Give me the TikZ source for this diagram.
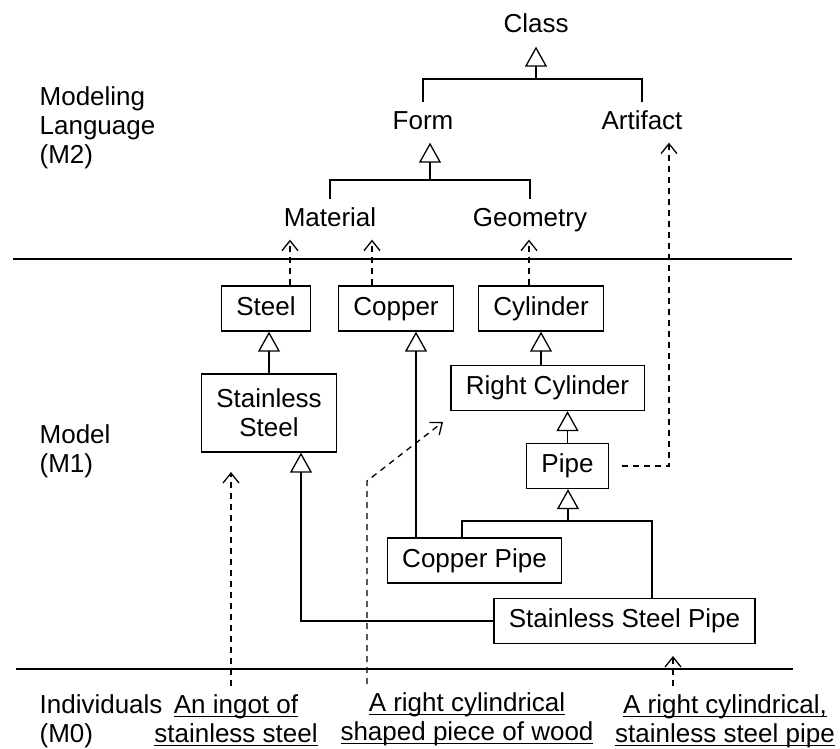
\documentclass[tikz,border=0pt]{standalone}
\usepackage{amsmath}
\usepackage{fontspec}
\setmainfont{Liberation Sans}
\usetikzlibrary{arrows.meta}

\newcommand{\undl}[1]{\underline{\smash[b]{#1}}}

\tikzset{
    lbl/.style={text height=18pt, text depth=5pt, inner xsep=0pt, inner ysep=8pt},
    box/.style={draw, inner xsep=15pt},
    cls/.style={box, text height=18pt, text depth=5pt, inner ysep=11pt},
    gen/.style={-{Triangle[open,length=20pt,width=22pt]}},
    dep/.style={-{Straight Barb[length=10pt,width=16pt]}, dash pattern=on 6pt off 5pt},
    inst/.style={align=center, inner xsep=0pt, inner ysep=8pt},
    sep/.style={line width=1.8pt}
}

\begin{document}
\begin{tikzpicture}[x=1pt, y=-1pt, line width=1.3pt, font=\fontsize{26}{29}\selectfont]
    \useasboundingbox (0,0) rectangle (840,749);

    % Draw level separators
    \draw[sep] (13,259) -- (792,259);
    \draw[sep] (16,669) -- (793,669);

    % Level names
    \node[anchor=north west, align=left, inner sep=0pt] (m2) at (39,86.5) {Modeling\\Language\\(M2)};
    \node[anchor=north west, align=left, inner sep=0pt] (m1) at (39,424.5) {Model\\(M1)};
    \node[anchor=north west, align=left, inner sep=0pt] (m0) at (39,694.5) {Individuals\\(M0)};

    % Modeling language (M2)
    \node[lbl, anchor=base] (class) at (536,33) {Class};
    \node[lbl, anchor=base] (form) at (423,129) {Form};
    \node[lbl, anchor=base] (artifact) at (642,129) {Artifact};
    \node[lbl, anchor=base] (material) at (330,226) {Material};
    \node[lbl, anchor=base] (geometry) at (530,226) {Geometry};

    \coordinate (topbar) at (536,79);
    \draw (form.north) |- (topbar) -| (artifact.north);
    \draw[gen] (topbar) -- (class.south);

    \coordinate (formbar) at (430,180);
    \draw (material.north) |- (formbar) -| (geometry.north);
    \draw[gen] (formbar) -- (formbar |- form.south);

    % Model (M1)
    \node[cls] (steel) at (266,308.5) {Steel};
    \node[cls] (copper) at (396,308.5) {Copper};
    \node[cls] (cylinder) at (541,308.5) {Cylinder};
    \node[box, align=center, inner ysep=0pt, minimum height=78pt] (sst) at (269,413) {Stainless\\Steel};
    \node[cls] (rcyl) at (547.5,388) {Right Cylinder};
    \node[cls] (pipe) at (567.5,466) {Pipe};
    \node[cls] (cpipe) at (474.5,560.5) {Copper Pipe};
    \node[cls] (sspipe) at (624.5,621) {Stainless Steel Pipe};

    \draw[gen] (sst.north) -- (sst.north |- steel.south);
    \draw[gen] (rcyl.north -| cylinder.south) -- (cylinder.south);
    \draw[gen] (pipe.north) -- (pipe.north |- rcyl.south);

    \coordinate (pipebar) at (568,521);
    \draw ([xshift=-12.5pt]cpipe.north) |- (pipebar) -| ([xshift=27.5pt]sspipe.north);
    \draw[gen] (pipebar) -- (pipebar |- pipe.south);

    \coordinate (cpup) at ([xshift=-58.5pt]cpipe.north);
    \draw[gen] (cpup) -- (cpup |- copper.south);
    \coordinate (sstin) at ([xshift=32pt]sst.south);
    \draw[gen] (sspipe.west) -| (sstin);

    % Instance-of links to M2
    \coordinate (stlup) at ([xshift=24pt]steel.north);
    \draw[dep] (stlup) -- (stlup |- material.south);
    \coordinate (copup) at ([xshift=-24pt]copper.north);
    \draw[dep] (copup) -- (copup |- material.south);
    \coordinate (cylup) at ([xshift=-12pt]cylinder.north);
    \draw[dep] (cylup) -- (cylup |- geometry.south);
    \draw[dep] ([xshift=13pt]pipe.east) -| ([xshift=27pt]artifact.south);

    % Individuals (M0)
    \node[inst, anchor=north] (ingot) at (236,686) {\undl{An ingot of}\\\undl{stainless steel}};
    \node[inst, anchor=north] (wood) at (467,684) {\undl{A right cylindrical}\\\undl{shaped piece of wood}};
    \node[inst, anchor=north] (ssp) at (725,686) {\undl{A right cylindrical,}\\\undl{stainless steel pipe}};

    \coordinate (ingtip) at (231,472);
    \draw[dep] ([xshift=-5pt]ingot.north) -- (ingtip);
    \coordinate (woodbend) at (367,481);
    \coordinate (woodtip) at (443,422);
    \draw[dep] ([xshift=-100pt]wood.north) -- (woodbend) -- (woodtip);
    \coordinate (ssptip) at (673,656);
    \draw[dep] ([xshift=-52pt]ssp.north) -- (ssptip);
\end{tikzpicture}
\end{document}
